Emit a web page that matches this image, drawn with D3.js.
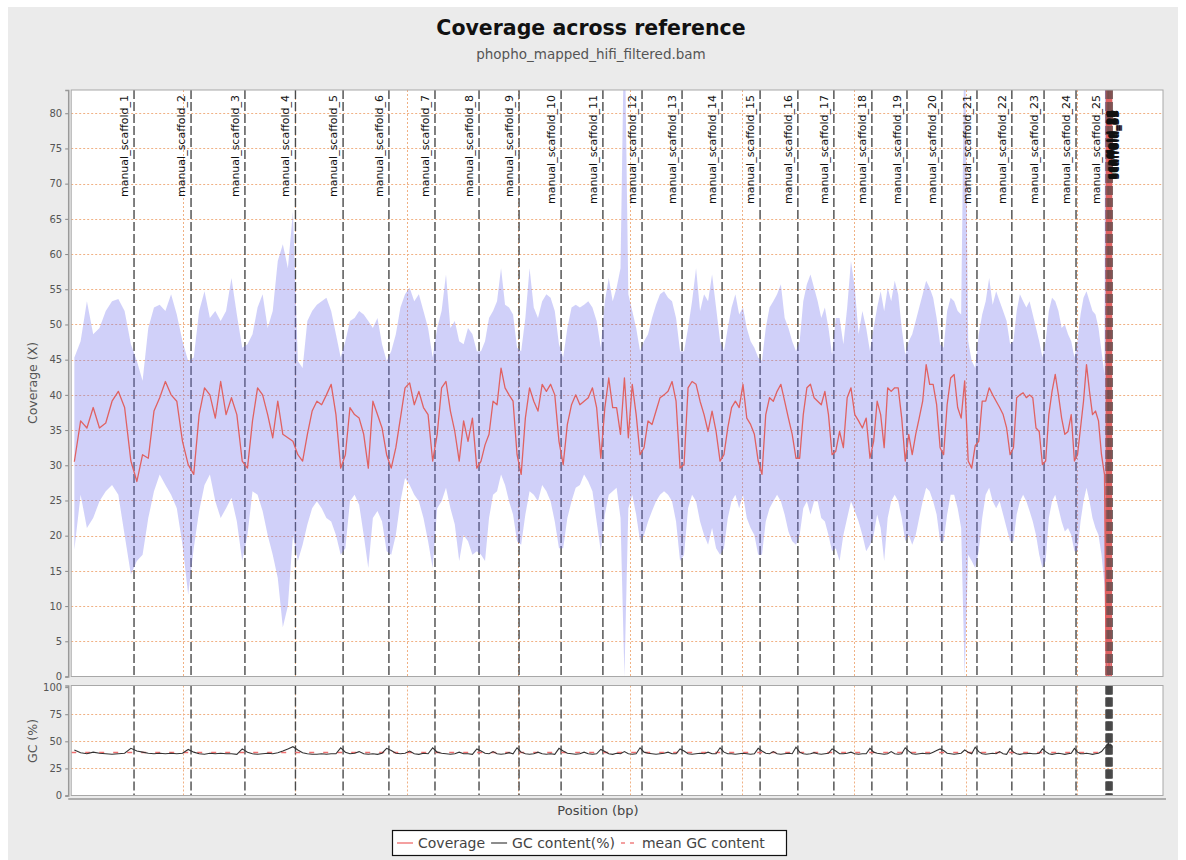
<!DOCTYPE html>
<html>
<head>
<meta charset="utf-8">
<script src="https://cdnjs.cloudflare.com/ajax/libs/d3/7.8.5/d3.min.js"></script>
<style>
  body { margin: 0; background: #fff; }
  svg text { font-family: "DejaVu Sans", sans-serif; }
</style>
</head>
<body>
<div id="chart"></div>
<script>
'use strict';

// scaffold ends, Mb along the concatenated reference
const scaffoldNames = d3.range(1, 26).map((i) => "manual_scaffold_" + i);
const scaffoldEnds = [28.1, 53.6, 77.7, 100.3, 121.6, 142.1, 162.7, 182.4, 200.3, 219.1,
  237.8, 255.3, 273.2, 291.1, 308.1, 325.0, 341.1, 358.1, 373.8, 389.4,
  405.1, 420.7, 435.1, 449.4, 462.8];

// the small leftover contigs packed at the end
const tinyNames = ["scaffold_26", "scaffold_27", "scaffold_28", "scaffold_29",
  "scaffold_30", "scaffold_31", "scaffold_32", "scaffold_33"];
const tinyEnds = [463.1, 463.5, 463.8, 464.1, 464.4, 464.8, 465.1, 465.5];

// mean coverage per window, 10 windows per scaffold
const coverageMean = [
  [30.5, 36.3, 35.3, 38.2, 35.3, 36.0, 39.1, 40.5, 38.2, 30.6],
  [27.7, 31.5, 31.0, 37.7, 39.6, 41.9, 40.0, 39.1, 33.4, 30.1],
  [28.7, 37.2, 41.0, 40.0, 36.7, 41.9, 37.2, 39.6, 37.2, 30.6],
  [29.6, 36.3, 41.0, 40.0, 37.2, 33.9, 39.1, 34.4, 33.9, 33.4],
  [31.5, 30.6, 34.4, 37.7, 39.1, 38.6, 40.0, 41.5, 37.2, 29.6],
  [31.5, 38.2, 37.2, 36.7, 34.4, 29.6, 39.1, 37.2, 35.3, 31.5],
  [29.6, 32.5, 36.7, 41.0, 41.7, 38.6, 40.5, 38.2, 37.2, 30.6],
  [34.4, 41.0, 41.9, 37.7, 34.8, 30.6, 36.3, 33.4, 36.7, 29.6],
  [30.6, 32.9, 34.4, 39.1, 38.6, 43.8, 41.0, 40.0, 39.1, 31.5],
  [28.7, 36.7, 41.0, 39.1, 37.7, 41.5, 40.5, 41.5, 40.0, 33.4],
  [30.1, 35.8, 38.6, 40.0, 38.6, 39.1, 39.6, 41.0, 38.2, 31.0],
  [38.2, 42.4, 38.2, 38.2, 34.4, 42.4, 33.9, 41.5, 37.2, 31.5],
  [32.5, 36.3, 35.8, 37.7, 39.6, 40.0, 40.5, 41.9, 39.1, 29.6],
  [30.1, 41.0, 41.9, 41.5, 39.1, 37.2, 34.8, 37.7, 34.8, 30.6],
  [31.5, 35.3, 38.2, 39.1, 38.2, 41.5, 36.7, 35.8, 34.4, 30.6],
  [28.7, 37.2, 39.6, 39.1, 40.5, 41.5, 39.1, 36.7, 34.4, 31.0],
  [31.0, 37.2, 41.0, 41.5, 39.6, 39.1, 38.6, 40.5, 37.2, 31.5],
  [32.0, 34.8, 32.5, 39.6, 41.0, 37.2, 36.3, 35.3, 36.7, 31.0],
  [33.4, 39.1, 37.2, 32.5, 41.0, 40.5, 41.0, 41.0, 36.7, 30.6],
  [34.4, 31.5, 34.4, 36.7, 39.1, 44.3, 41.5, 41.5, 38.6, 32.5],
  [31.5, 38.6, 42.4, 42.9, 38.2, 36.7, 42.0, 30.6, 29.6, 32.8],
  [33.4, 39.1, 39.1, 41.0, 40.0, 39.1, 38.2, 37.2, 35.3, 31.5],
  [32.5, 39.6, 40.0, 40.3, 39.6, 40.0, 39.6, 35.3, 34.8, 30.1],
  [30.6, 37.2, 40.5, 42.9, 40.0, 36.7, 34.4, 34.8, 37.2, 30.6],
  [31.5, 35.3, 39.1, 44.3, 40.5, 37.2, 37.7, 36.3, 31.5, 28.7]
];

// mean + std per window
const coverageUpper = [
  [45.3, 47.6, 53.3, 48.6, 49.5, 51.9, 53.3, 53.6, 51.9, 47.2],
  [44.8, 42.0, 49.5, 52.4, 52.8, 51.9, 54.3, 51.4, 47.6, 44.8],
  [45.3, 51.9, 54.7, 50.9, 51.9, 50.5, 51.9, 56.6, 51.4, 46.7],
  [47.2, 48.6, 52.4, 54.3, 49.5, 51.9, 59.0, 61.4, 58.0, 66.0],
  [44.8, 43.8, 50.5, 51.9, 52.8, 53.3, 53.8, 51.9, 48.6, 45.3],
  [47.6, 50.5, 50.9, 51.9, 51.4, 50.5, 49.5, 50.9, 47.2, 44.8],
  [46.2, 48.6, 52.4, 54.3, 55.2, 53.3, 54.3, 51.9, 49.5, 45.3],
  [49.5, 51.9, 57.1, 49.5, 50.5, 47.6, 47.2, 49.5, 48.6, 46.2],
  [46.2, 47.6, 50.9, 51.9, 53.3, 58.0, 52.8, 52.4, 51.4, 46.7],
  [46.2, 50.9, 58.0, 52.4, 50.9, 53.3, 54.3, 53.8, 51.9, 47.2],
  [45.3, 49.5, 52.4, 52.8, 52.4, 52.8, 53.3, 52.4, 50.5, 46.7],
  [53.3, 56.6, 53.3, 55.2, 58.0, 95.0, 54.3, 51.9, 49.5, 46.2],
  [47.6, 48.6, 50.9, 52.8, 54.3, 54.7, 53.8, 53.3, 50.9, 46.2],
  [46.2, 49.5, 53.3, 58.0, 51.9, 54.3, 53.3, 57.1, 52.4, 47.6],
  [46.2, 49.5, 52.4, 54.3, 51.4, 52.4, 49.5, 47.6, 46.7, 45.3],
  [44.8, 49.5, 52.4, 53.3, 54.3, 55.7, 50.9, 49.5, 47.6, 46.2],
  [47.6, 53.3, 55.7, 57.1, 55.2, 53.3, 50.9, 52.4, 49.5, 45.7],
  [50.9, 50.9, 47.2, 52.4, 59.0, 55.2, 48.6, 51.9, 49.5, 46.2],
  [49.5, 52.4, 54.7, 51.9, 55.2, 53.3, 56.2, 54.3, 49.5, 45.7],
  [47.6, 48.6, 50.5, 52.4, 54.3, 56.2, 55.2, 53.8, 50.9, 47.2],
  [46.7, 51.9, 53.8, 53.3, 51.9, 51.4, 95.0, 47.6, 44.8, 43.8],
  [48.6, 51.4, 53.3, 56.6, 52.8, 54.7, 53.3, 51.9, 50.5, 47.2],
  [47.6, 51.9, 54.3, 53.3, 52.4, 53.3, 51.4, 49.5, 47.6, 45.3],
  [47.6, 51.9, 53.8, 53.3, 51.9, 49.5, 50.0, 48.6, 47.6, 45.3],
  [47.6, 51.4, 53.8, 54.7, 53.3, 51.9, 51.4, 49.5, 46.2, 42.9]
];

// mean - std per window
const coverageLower = [
  [18.0, 25.8, 21.1, 22.5, 24.9, 26.3, 27.2, 25.8, 20.1, 14.5],
  [16.4, 17.3, 22.5, 26.3, 28.7, 27.2, 25.8, 23.9, 18.7, 11.6],
  [18.2, 23.5, 27.2, 28.7, 24.9, 22.5, 23.9, 25.4, 22.0, 16.4],
  [20.1, 26.3, 25.8, 23.5, 20.1, 17.3, 14.0, 7.0, 10.0, 20.1],
  [16.4, 18.7, 21.6, 23.9, 24.9, 23.9, 22.5, 22.0, 20.1, 17.3],
  [18.2, 24.9, 25.8, 24.4, 20.1, 15.4, 22.5, 23.5, 22.0, 17.8],
  [17.3, 20.1, 24.9, 28.2, 27.2, 25.8, 24.9, 22.5, 19.2, 15.4],
  [23.9, 24.9, 26.8, 23.9, 21.6, 16.4, 20.1, 19.2, 17.3, 17.8],
  [17.3, 16.4, 22.5, 25.8, 26.3, 28.7, 27.2, 24.9, 23.0, 19.2],
  [18.7, 23.0, 26.3, 25.8, 24.9, 27.2, 26.3, 24.9, 22.0, 18.2],
  [18.2, 22.5, 24.9, 26.8, 27.2, 28.7, 27.7, 26.3, 22.0, 17.8],
  [23.0, 25.8, 26.3, 26.8, 22.5, 0.0, 23.9, 25.8, 23.0, 19.2],
  [20.1, 22.0, 23.5, 24.9, 25.8, 26.3, 25.8, 24.9, 22.0, 16.4],
  [17.3, 23.9, 25.8, 24.9, 22.0, 20.1, 18.7, 21.1, 18.2, 17.3],
  [18.2, 22.5, 24.9, 25.8, 23.9, 25.8, 22.5, 21.1, 20.1, 17.3],
  [17.3, 22.0, 23.9, 24.9, 25.8, 24.9, 23.0, 20.6, 19.2, 18.7],
  [20.1, 23.9, 24.9, 23.0, 24.9, 24.9, 22.5, 22.0, 20.1, 17.8],
  [18.2, 16.4, 20.1, 22.5, 24.9, 23.5, 22.0, 20.1, 17.8, 18.7],
  [20.1, 23.0, 21.1, 16.4, 22.5, 24.9, 25.8, 24.9, 22.5, 19.2],
  [20.1, 18.7, 20.1, 22.5, 24.9, 26.8, 26.3, 24.9, 23.0, 19.2],
  [19.2, 23.0, 25.8, 25.8, 23.9, 21.1, 0.0, 17.3, 16.4, 15.4],
  [17.8, 22.5, 25.8, 26.8, 24.9, 23.9, 24.9, 23.0, 21.1, 19.2],
  [19.2, 23.0, 24.9, 25.8, 24.9, 23.5, 22.0, 20.1, 17.3, 15.4],
  [16.4, 22.5, 24.9, 25.8, 23.9, 22.0, 20.6, 21.1, 20.1, 17.8],
  [17.8, 22.0, 24.9, 26.8, 24.9, 22.5, 21.1, 20.1, 17.3, 13.0]
];

// GC content (%) per window
const gcContent = [
  [42, 39.5, 38.5, 40, 39, 38.5, 38, 38.5, 39, 43.5],
  [41, 40, 39, 38.5, 39, 38.5, 39, 38.5, 39, 42.5],
  [40, 38.5, 38, 39, 38.5, 39, 38.5, 38.5, 38, 43],
  [40, 38.5, 38, 38.5, 39, 38.5, 39.5, 41, 43, 45],
  [42, 39.5, 38.5, 38, 38, 38.5, 38, 38.5, 38.5, 44],
  [40, 38.5, 39, 40.5, 38.5, 38, 38.5, 38, 39, 43.5],
  [41.5, 39, 38.5, 39, 41, 38.5, 38, 39, 38.5, 44],
  [40, 39, 38.5, 38, 38.5, 40, 38.5, 38.5, 38, 43],
  [41, 39, 38.5, 40.5, 38.5, 38, 38.5, 39.5, 38.5, 44],
  [40, 38.5, 38, 38.5, 40, 38.5, 38, 38.5, 38, 43.5],
  [41, 39, 38.5, 38, 38.5, 40, 38.5, 38, 38.5, 42.5],
  [40.5, 38.5, 38, 39, 38.5, 40.5, 38.5, 38, 38.5, 44],
  [40, 39, 38.5, 38, 38.5, 39, 40, 38.5, 38.5, 43],
  [41, 38.5, 38, 38.5, 39, 38.5, 40, 38.5, 38.5, 44],
  [40, 38.5, 38.5, 38, 38.5, 39, 38.5, 38, 38.5, 43.5],
  [41, 39, 38.5, 40.5, 38.5, 38, 38.5, 39, 38.5, 44.5],
  [40, 38.5, 38, 38.5, 39.5, 38.5, 38, 38.5, 39, 43],
  [41, 38.5, 38.5, 39, 40, 38.5, 38, 38.5, 38.5, 43.5],
  [40, 39, 38.5, 38, 38.5, 40.5, 38.5, 38, 38.5, 44],
  [41, 38.5, 38, 38.5, 39, 38.5, 38.5, 40, 41.5, 43],
  [41.5, 39, 38.5, 38, 38.5, 39, 42, 40, 38.5, 44.5],
  [40.5, 38.5, 38, 38.5, 39, 38.5, 40.5, 38.5, 38, 43.5],
  [40, 38.5, 38, 38.5, 38.5, 39, 38.5, 38.5, 39, 43],
  [40.5, 38.5, 38, 38.5, 39, 38.5, 38, 38.5, 39, 43.5],
  [40, 38.5, 38.5, 39, 38.5, 38, 38.5, 39, 40.5, 44]
];

// windows over the tiny contigs (very noisy, from empty to far off scale)
const tinyCoverage = [0, 140, 0, 120, 2, 150, 0, 110, 1, 130, 0, 125, 3, 140, 0, 118];
const tinyUpper = [200, 200, 200, 200, 200, 200, 200, 200, 200, 200, 200, 200, 200, 200, 200, 200];
const tinyLower = [0, 0, 0, 0, 0, 0, 0, 0, 0, 0, 0, 0, 0, 0, 0, 0];
const tinyGc = [45, 47, 44, 48, 43, 46, 49, 44, 47, 45, 48, 44, 46, 45, 47, 44];

const meanGc = 39.6;

const coverageTicks = [0, 5, 10, 15, 20, 25, 30, 35, 40, 45, 50, 55, 60, 65, 70, 75, 80];
const gcTicks = [0, 25, 50, 75, 100];
const positionTicks = [50, 100, 150, 200, 250, 300, 350, 400, 450];
const legendLabels = ["Coverage", "GC content(%)", "mean GC content"];

(function() {

    let svg = "";
    let x, yCov, yGc;

    const left = 71.2, right = 1163;
    const covTop = 90, covBottom = 676.5;
    const gcTop = 685.5, gcBottom = 795.5;

    window.onload = function() {
        svg = d3.select('#chart').append('svg')
            .attr('width', 1186).attr('height', 860);

        svg.append('rect').attr('width', 1186).attr('height', 860).attr('fill', '#fff');
        svg.append('rect')
            .attr('x', 8).attr('y', 7).attr('width', 1170).attr('height', 853)
            .attr('fill', '#ebebeb');

        makeScales();
        drawPanels();
        drawGrid();
        drawMarkers(scaffoldEnds.concat(tinyEnds), 1);
        drawCoverage();
        drawGc();
        // the tiny contig markers show through the noisy end of the series
        drawMarkers(tinyEnds, 0.45);
        drawMarkerLabels();
        drawAxes();
        makeLabels();
        makeLegend();
    }

    function makeScales() {
        x = d3.scaleLinear().domain([0, 488.3]).range([left, right]);
        yCov = d3.scaleLinear().domain([0, 83.3]).range([covBottom, covTop]);
        yGc = d3.scaleLinear().domain([0, 101.5]).range([gcBottom, gcTop]);
    }

    // spread each scaffold's windows evenly over its span
    function windows(values, starts, ends) {
        let out = [];
        values.forEach((vals, i) => {
            let step = (ends[i] - starts[i]) / vals.length;
            vals.forEach((v, k) => out.push({ pos: starts[i] + (k + 0.5) * step, v: v }));
        });
        return out;
    }

    function allWindows(main, tiny) {
        let starts = scaffoldEnds.map((e, i) => i == 0 ? 0 : scaffoldEnds[i - 1]);
        let pts = windows(main, starts, scaffoldEnds);
        let tinyStart = scaffoldEnds[scaffoldEnds.length - 1];
        return pts.concat(windows([tiny], [tinyStart], [tinyEnds[tinyEnds.length - 1]]));
    }

    function drawPanels() {
        svg.append('rect')
            .attr('x', left).attr('y', covTop)
            .attr('width', right - left).attr('height', covBottom - covTop)
            .attr('fill', '#fff');
        svg.append('rect')
            .attr('x', left).attr('y', gcTop)
            .attr('width', right - left).attr('height', gcBottom - gcTop)
            .attr('fill', '#fff');

        let defs = svg.append('defs');
        defs.append('clipPath').attr('id', 'clipCov').append('rect')
            .attr('x', left).attr('y', covTop)
            .attr('width', right - left).attr('height', covBottom - covTop);
        defs.append('clipPath').attr('id', 'clipGc').append('rect')
            .attr('x', left).attr('y', gcTop)
            .attr('width', right - left).attr('height', gcBottom - gcTop);
    }

    function drawGrid() {
        let g = svg.append('g')
            .attr('stroke', '#f0b184').attr('stroke-width', 1)
            .attr('stroke-dasharray', '2,2');

        g.selectAll('.hc').data(coverageTicks.slice(1)).enter().append('line')
            .attr('x1', left).attr('x2', right)
            .attr('y1', (d) => Math.round(yCov(d)) + 0.5)
            .attr('y2', (d) => Math.round(yCov(d)) + 0.5);

        g.selectAll('.hg').data(gcTicks.slice(1, 4)).enter().append('line')
            .attr('x1', left).attr('x2', right)
            .attr('y1', (d) => Math.round(yGc(d)) + 0.5)
            .attr('y2', (d) => Math.round(yGc(d)) + 0.5);

        positionTicks.forEach((t) => {
            let px = Math.round(x(t)) + 0.5;
            g.append('line').attr('x1', px).attr('x2', px).attr('y1', covTop).attr('y2', covBottom);
            g.append('line').attr('x1', px).attr('x2', px).attr('y1', gcTop).attr('y2', gcBottom);
        });
    }

    function drawCoverage() {
        let upper = allWindows(coverageUpper, tinyUpper);
        let lower = allWindows(coverageLower, tinyLower);
        let mean = allWindows(coverageMean, tinyCoverage);

        let band = upper.map((d, i) => ({ pos: d.pos, hi: d.v, lo: lower[i].v }));

        let g = svg.append('g').attr('clip-path', 'url(#clipCov)');

        let area = d3.area()
            .x((d) => x(d.pos))
            .y0((d) => yCov(d.lo))
            .y1((d) => yCov(d.hi));

        g.append('path')
            .attr('d', area(band))
            .attr('fill', 'rgb(118,118,236)')
            .attr('fill-opacity', 0.34);

        let line = d3.line()
            .x((d) => x(d.pos))
            .y((d) => yCov(d.v));

        g.append('path')
            .attr('d', line(mean))
            .attr('fill', 'none')
            .attr('stroke', '#e06262')
            .attr('stroke-width', 1.3)
            .attr('stroke-linejoin', 'round');
    }

    function drawGc() {
        let gc = allWindows(gcContent, tinyGc);
        let g = svg.append('g').attr('clip-path', 'url(#clipGc)');

        g.append('line')
            .attr('x1', x(0)).attr('x2', x(scaffoldEnds[scaffoldEnds.length - 1]))
            .attr('y1', yGc(meanGc)).attr('y2', yGc(meanGc))
            .attr('stroke', '#f07070')
            .attr('stroke-width', 1.5)
            .attr('stroke-dasharray', '5,9');

        let line = d3.line()
            .x((d) => x(d.pos))
            .y((d) => yGc(d.v));

        g.append('path')
            .attr('d', line(gc))
            .attr('fill', 'none')
            .attr('stroke', '#333')
            .attr('stroke-width', 1.1);
    }

    // dashed contig boundaries across both panels
    function drawMarkers(ends, opacity) {
        let g = svg.append('g')
            .attr('stroke', '#4a4a4a')
            .attr('stroke-opacity', opacity)
            .attr('stroke-width', 1.4)
            .attr('stroke-dasharray', '9,3');

        ends.forEach((e) => {
            let px = x(e);
            g.append('line').attr('x1', px).attr('x2', px).attr('y1', covTop).attr('y2', covBottom);
            g.append('line').attr('x1', px).attr('x2', px).attr('y1', gcTop).attr('y2', gcBottom);
        });
    }

    function drawMarkerLabels() {
        let labels = svg.append('g')
            .style('font-size', '11px')
            .attr('fill', '#111');

        scaffoldNames.forEach((name, i) => {
            labels.append('text')
                .attr('transform', 'translate(' + (x(scaffoldEnds[i]) - 6) + ',95)rotate(-90)')
                .attr('text-anchor', 'end')
                .text(name);
        });

        tinyNames.forEach((name, i) => {
            labels.append('text')
                .attr('transform', 'translate(' + (x(tinyEnds[i]) + 7) + ',110)rotate(-90)')
                .attr('text-anchor', 'end')
                .style('font-weight', 'bold')
                .text(name);
        });
    }

    function drawAxes() {
        // plot frames
        [[covTop, covBottom], [gcTop, gcBottom]].forEach((p) => {
            svg.append('rect')
                .attr('x', left).attr('y', p[0])
                .attr('width', right - left).attr('height', p[1] - p[0])
                .attr('fill', 'none')
                .attr('stroke', '#a8a8a8');
        });

        let covAxis = d3.axisLeft(yCov).tickValues(coverageTicks).tickSize(3).tickPadding(3);
        let gcAxis = d3.axisLeft(yGc).tickValues(gcTicks).tickSize(3).tickPadding(3);

        [covAxis, gcAxis].forEach((a) => {
            let g = svg.append('g')
                .attr('transform', 'translate(' + (left - 3) + ',0)')
                .call(a);
            g.select('.domain').attr('stroke', '#999').attr('stroke-width', 1.5);
            g.selectAll('.tick line').attr('stroke', '#888');
            g.selectAll('.tick text')
                .attr('fill', '#555')
                .style('font-size', '10px')
                .style('font-family', '"DejaVu Sans", sans-serif');
        });

        // shared domain axis line, no tick labels
        svg.append('line')
            .attr('x1', left - 3).attr('x2', right + 3)
            .attr('y1', gcBottom + 3.5).attr('y2', gcBottom + 3.5)
            .attr('stroke', '#999').attr('stroke-width', 1.5);
    }

    function makeLabels() {
        svg.append('text')
            .attr('x', 591)
            .attr('y', 35)
            .attr('text-anchor', 'middle')
            .style('font-size', '20.5px')
            .style('font-weight', 'bold')
            .attr('fill', '#111')
            .text("Coverage across reference");

        svg.append('text')
            .attr('x', 591)
            .attr('y', 59)
            .attr('text-anchor', 'middle')
            .style('font-size', '13.5px')
            .attr('fill', '#555')
            .text("phopho_mapped_hifi_filtered.bam");

        svg.append('text')
            .attr('transform', 'translate(37, 383)rotate(-90)')
            .attr('text-anchor', 'middle')
            .style('font-size', '12.5px')
            .attr('fill', '#555')
            .text('Coverage (X)');

        svg.append('text')
            .attr('transform', 'translate(37, 741)rotate(-90)')
            .attr('text-anchor', 'middle')
            .style('font-size', '12.5px')
            .attr('fill', '#555')
            .text('GC (%)');

        svg.append('text')
            .attr('x', 598)
            .attr('y', 815)
            .attr('text-anchor', 'middle')
            .style('font-size', '13px')
            .attr('fill', '#444')
            .text('Position (bp)');
    }

    function makeLegend() {
        let g = svg.append('g');
        g.append('rect')
            .attr('x', 392.5).attr('y', 830.5)
            .attr('width', 394).attr('height', 25)
            .attr('fill', '#fff')
            .attr('stroke', '#111')
            .attr('stroke-width', 1.2);

        let colors = ['#f08080', '#666', '#f08080'];
        let dashes = [null, null, '4,5'];
        let cx = 397;
        legendLabels.forEach((label, i) => {
            g.append('line')
                .attr('x1', cx).attr('x2', cx + 16)
                .attr('y1', 843).attr('y2', 843)
                .attr('stroke', colors[i])
                .attr('stroke-width', 1.5)
                .attr('stroke-dasharray', dashes[i]);
            let t = g.append('text')
                .attr('x', cx + 21)
                .attr('y', 848)
                .style('font-size', '14px')
                .attr('fill', '#444')
                .text(label);
            cx += 21 + t.node().getComputedTextLength() + 6;
        });
    }

})();
</script>
</body>
</html>
